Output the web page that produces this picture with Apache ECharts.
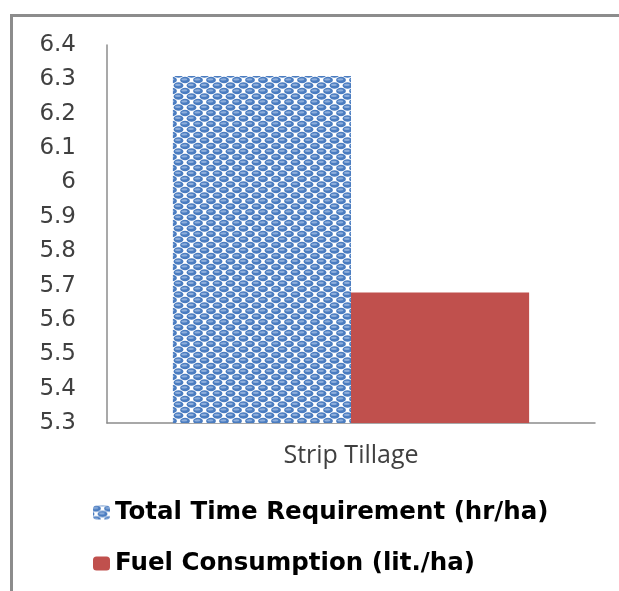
<!DOCTYPE html>
<html>
<head>
<meta charset="utf-8">
<script src="https://cdn.jsdelivr.net/npm/echarts@6/dist/echarts.min.js"></script>
<style>
  html, body { margin: 0; padding: 0; background: #ffffff; }
  #chart { width: 619px; height: 591px; }
</style>
</head>
<body>
<div id="chart"></div>
<script>
// Strip tillage performance figures
var categories = ['Strip Tillage'];
var seriesNames = ['Total Time Requirement (hr/ha)', 'Fuel Consumption (lit./ha)'];
var timeRequirement = [6.31];
var fuelConsumption = [5.68];
var yTicks = { min: 5.3, max: 6.4, step: 0.1 };

// Dotted "sphere" fill for the time-requirement bar
function makeSpherePattern() {
  var w = 12.6, h = 10.8;
  var c = document.createElement('canvas');
  c.width = Math.round(w); c.height = Math.round(h);
  var g = c.getContext('2d');
  g.fillStyle = '#ffffff';
  g.fillRect(0, 0, c.width, c.height);
  function dot(cx, cy) {
    g.beginPath();
    g.ellipse(cx, cy, 4.9, 3.2, 0, 0, Math.PI * 2);
    g.fillStyle = '#4a7cc0';
    g.fill();
    g.beginPath();
    g.ellipse(cx - 0.6, cy - 0.6, 3.0, 1.1, 0, 0, Math.PI * 2);
    g.fillStyle = '#8eaedb';
    g.fill();
  }
  var W = c.width, H = c.height;
  var pts = [];
  [-1, 0, 1].forEach(function (i) {
    [-1, 0, 1].forEach(function (j) {
      pts.push([3 + i * W, 3 + j * H]);
      pts.push([3 + W / 2 + i * W, 3 + H / 2 + j * H]);
    });
  });
  pts.forEach(function (p) { dot(p[0], p[1]); });
  return c;
}

var chart = echarts.init(document.getElementById('chart'), null, { renderer: 'canvas' });

var option = {
  backgroundColor: '#ffffff',
  animation: false,
  grid: { left: 107, right: 24, top: 45, bottom: 168, containLabel: false },
  xAxis: {
    type: 'category',
    data: categories,
    axisLine: { show: true, lineStyle: { color: '#8c8c8c', width: 1.5 } },
    axisTick: { show: false },
    axisLabel: {
      margin: 20,
      color: '#404040',
      fontFamily: 'Open Sans',
      fontSize: 25
    }
  },
  yAxis: {
    type: 'value',
    min: yTicks.min,
    max: yTicks.max,
    interval: yTicks.step,
    splitLine: { show: false },
    axisLine: { show: true, lineStyle: { color: '#8c8c8c', width: 1.5 } },
    axisTick: { show: false },
    axisLabel: {
      margin: 31,
      color: '#404040',
      fontFamily: 'DejaVu Sans',
      fontSize: 23,
      formatter: function (v) { return String(parseFloat(v.toFixed(1))); }
    }
  },
  legend: {
    orient: 'vertical',
    left: 88,
    top: 495,
    itemWidth: 17,
    itemHeight: 14,
    itemGap: 26,
    textStyle: {
      fontFamily: 'DejaVu Sans',
      fontWeight: 'bold',
      fontSize: 24.5,
      color: '#000000'
    },
    data: seriesNames
  },
  series: [
    {
      name: seriesNames[0],
      type: 'bar',
      data: timeRequirement,
      barGap: '0%',
      barCategoryGap: '27%',
      itemStyle: { color: { image: makeSpherePattern(), repeat: 'repeat' } }
    },
    {
      name: seriesNames[1],
      type: 'bar',
      data: fuelConsumption,
      itemStyle: { color: '#c0504d' }
    }
  ],
  graphic: [
    { type: 'line', shape: { x1: 10, y1: 15.5, x2: 619, y2: 15.5 }, style: { stroke: '#8c8c8c', lineWidth: 3 } },
    { type: 'line', shape: { x1: 11.5, y1: 14, x2: 11.5, y2: 591 }, style: { stroke: '#8c8c8c', lineWidth: 3 } }
  ]
};

chart.setOption(option);
</script>
</body>
</html>
